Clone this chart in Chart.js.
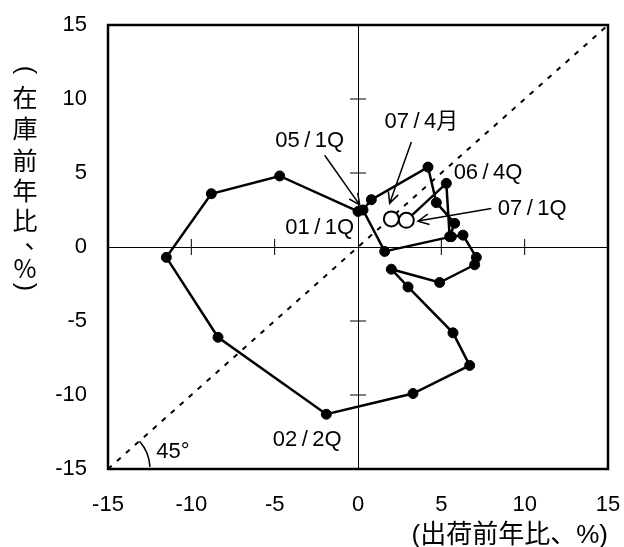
<!DOCTYPE html>
<html>
<head>
<meta charset="utf-8">
<script src="https://cdn.jsdelivr.net/npm/chart.js@4"></script>
<style>
  body { margin: 0; background: #fff; }
  #wrap { width: 624px; height: 547px; }
</style>
</head>
<body>
<div id="wrap"><canvas id="myChart"></canvas></div>
<script>
// quarterly path, 01/1Q .. 07/1Q
const quarters = ['01/1Q','01/2Q','01/3Q','01/4Q','02/1Q','02/2Q','02/3Q','02/4Q',
  '03/1Q','03/2Q','03/3Q','03/4Q','04/1Q','04/2Q','04/3Q','04/4Q',
  '05/1Q','05/2Q','05/3Q','05/4Q','06/1Q','06/2Q','06/3Q','06/4Q','07/1Q'];
const shipments = [0.0, -4.7, -8.8, -11.5, -8.4, -1.9, 3.3, 6.7,
  5.7, 3.0, 2.0, 4.9, 7.0, 7.1, 6.3, 5.6,
  1.6, 0.3, 0.8, 4.2, 4.7, 5.8, 5.5, 5.3, 2.9];
const inventory = [2.4, 4.8, 3.6, -0.7, -6.1, -11.3, -9.9, -8.0,
  -5.8, -2.7, -1.5, -2.4, -1.2, -0.7, 0.8, 0.7,
  -0.3, 2.5, 3.2, 5.4, 3.0, 1.6, 0.7, 4.3, 1.8];
// latest month
const monthLabel = ['07/4月'];
const monthShip = [2.0];
const monthInv = [1.9];
// 45 degree line
const diagX = [-15, 15];
const diagY = [-15, 15];
const tickVals = [-15, -10, -5, 0, 5, 10, 15];

const FONT = "'Liberation Sans', Arial, 'Noto Sans CJK JP', sans-serif";
const lastIdx = quarters.length - 1;

// text notes, in data units: [text, x, y, arrowFromX, arrowFromY, arrowToX, arrowToY]
const notes = [
  ['05\u2009/\u20091Q', -2.9, 7.2, -2.0, 6.2, 0.1, 2.85],
  ['07\u2009/\u20094月', 3.8, 8.45, 3.2, 7.1, 1.9, 2.95],
  ['06\u2009/\u20094Q', 7.8, 5.0],
  ['07\u2009/\u20091Q', 10.45, 2.6, 8.0, 2.6, 3.6, 1.75],
  ['01\u2009/\u20091Q', -2.3, 1.3],
  ['02\u2009/\u20092Q', -3.05, -13.05],
  ['45°', -11.1, -13.85]
];

function arrow(ctx, x1, y1, x2, y2) {
  ctx.beginPath();
  ctx.moveTo(x1, y1);
  ctx.lineTo(x2, y2);
  const a = Math.atan2(y2 - y1, x2 - x1);
  const len = 12, sp = 0.45;
  ctx.moveTo(x2 - len * Math.cos(a - sp), y2 - len * Math.sin(a - sp));
  ctx.lineTo(x2, y2);
  ctx.lineTo(x2 - len * Math.cos(a + sp), y2 - len * Math.sin(a + sp));
  ctx.stroke();
}

function noPad(s) {
  s.paddingLeft = 0; s.paddingRight = 0; s.paddingTop = 0; s.paddingBottom = 0;
}

const extras = {
  id: 'extras',
  beforeDatasetsDraw(chart) {
    const {ctx, scales: {x, y}} = chart;
    const x0 = x.getPixelForValue(0), y0 = y.getPixelForValue(0);
    ctx.save();
    ctx.strokeStyle = '#000';
    ctx.lineWidth = 1;
    ctx.beginPath();
    [-10, -5, 5, 10].forEach(v => {
      const px = x.getPixelForValue(v);
      ctx.moveTo(px, y0 - 8); ctx.lineTo(px, y0 + 8);
      const py = y.getPixelForValue(v);
      ctx.moveTo(x0 - 8, py); ctx.lineTo(x0 + 8, py);
    });
    ctx.stroke();
    ctx.restore();
  },
  afterDatasetsDraw(chart) {
    const {ctx, chartArea: ca, scales: {x, y}} = chart;
    ctx.save();
    ctx.strokeStyle = '#000';
    ctx.lineWidth = 2.5;
    ctx.strokeRect(ca.left, ca.top, ca.right - ca.left, ca.bottom - ca.top);

    ctx.fillStyle = '#000';
    ctx.font = '22px ' + FONT;
    ctx.textAlign = 'center';
    ctx.textBaseline = 'middle';
    ctx.lineWidth = 1.5;
    notes.forEach(n => {
      ctx.fillText(n[0], x.getPixelForValue(n[1]), y.getPixelForValue(n[2]));
      if (n.length > 3) {
        arrow(ctx, x.getPixelForValue(n[3]), y.getPixelForValue(n[4]),
          x.getPixelForValue(n[5]), y.getPixelForValue(n[6]));
      }
    });
    // angle mark
    ctx.beginPath();
    ctx.arc(x.getPixelForValue(-15), y.getPixelForValue(-15), 42, -0.72, -0.05);
    ctx.stroke();

    // vertical y title
    ctx.font = "25px 'Noto Sans CJK JP', sans-serif";
    const cx = 25;
    const chars = [['在', 97], ['庫', 128], ['前', 160], ['年', 190], ['比', 220], ['%', 268]];
    chars.forEach(c => ctx.fillText(c[0], cx, c[1]));
    ctx.fillText('、', cx + 12, 238);
    ctx.font = "25px 'Liberation Sans', sans-serif";
    [['(', 70], [')', 287]].forEach(c => {
      ctx.save();
      ctx.translate(cx, c[1]);
      ctx.rotate(Math.PI / 2);
      ctx.fillText(c[0], 0, 0);
      ctx.restore();
    });
    ctx.restore();
  }
};

const ctxchart = document.getElementById('myChart');

const myChart = new Chart(ctxchart, {
  type: 'scatter',
  data: {
    datasets: [{
      label: '45°',
      data: diagX.map((v, i) => ({x: v, y: diagY[i]})),
      showLine: true,
      borderColor: '#000',
      borderWidth: 2,
      borderDash: [5, 7],
      pointRadius: 0,
      order: 3
    }, {
      label: 'quarterly',
      data: shipments.map((v, i) => ({x: v, y: inventory[i]})),
      showLine: true,
      borderColor: '#000',
      borderWidth: 2.5,
      pointRadius: c => c.dataIndex === lastIdx ? 7.5 : 5,
      pointBackgroundColor: c => c.dataIndex === lastIdx ? '#fff' : '#000',
      pointBorderColor: '#000',
      pointBorderWidth: c => c.dataIndex === lastIdx ? 2 : 1,
      order: 2
    }, {
      label: monthLabel[0],
      data: monthShip.map((v, i) => ({x: v, y: monthInv[i]})),
      showLine: false,
      pointRadius: 7.5,
      pointBackgroundColor: '#fff',
      pointBorderColor: '#000',
      pointBorderWidth: 2,
      order: 1
    }]
  },
  options: {
    responsive: true,
    maintainAspectRatio: false,
    animation: false,
    layout: { padding: { left: 0, right: 16, top: 25, bottom: 0 } },
    plugins: { legend: { display: false }, tooltip: { enabled: false } },
    scales: {
      x: {
        type: 'linear',
        min: -15, max: 15,
        afterBuildTicks: s => { s.ticks = tickVals.map(v => ({value: v})); },
        afterFit: s => { s.height = 78; noPad(s); },
        border: { display: false },
        grid: {
          drawTicks: false,
          lineWidth: 1,
          color: c => (c.tick && c.tick.value === 0) ? '#000' : 'rgba(0,0,0,0)'
        },
        ticks: { color: '#000', padding: 23, font: { size: 22, family: FONT } },
        title: {
          display: true,
          text: '(出荷前年比、%)',
          align: 'end',
          color: '#000',
          font: { size: 26, family: FONT },
          padding: { top: 0, bottom: -4 }
        }
      },
      y: {
        type: 'linear',
        min: -15, max: 15,
        afterBuildTicks: s => { s.ticks = tickVals.map(v => ({value: v})); },
        afterFit: s => { s.width = 108; noPad(s); },
        border: { display: false },
        grid: {
          drawTicks: false,
          lineWidth: 1,
          color: c => (c.tick && c.tick.value === 0) ? '#000' : 'rgba(0,0,0,0)'
        },
        ticks: { color: '#000', padding: 21, font: { size: 22, family: FONT } }
      }
    }
  },
  plugins: [extras]
});
</script>
</body>
</html>
